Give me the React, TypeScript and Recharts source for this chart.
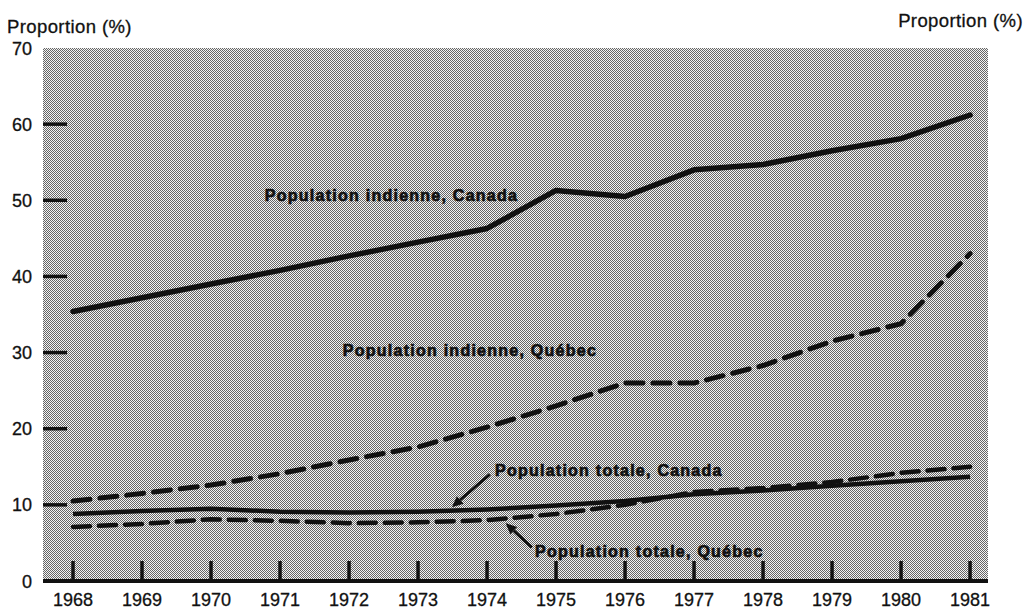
import React from 'react';
import { LineChart, Line, XAxis, YAxis, CartesianGrid, ReferenceLine, ReferenceDot } from 'recharts';

// ---- data (proportions in %) ----
const years = [1968, 1969, 1970, 1971, 1972, 1973, 1974, 1975, 1976, 1977, 1978, 1979, 1980, 1981];
const indienneCanada = [35.4, 37.2, 39.0, 40.8, 42.7, 44.5, 46.3, 51.3, 50.5, 54.0, 54.7, 56.5, 58.1, 61.2];
const indienneQuebec = [10.5, 11.5, 12.6, 14.1, 15.9, 17.6, 20.2, 23.0, 26.0, 26.0, 28.3, 31.5, 33.8, 43.0];
const totaleCanada = [8.8, 9.2, 9.5, 9.1, 9.0, 9.1, 9.4, 9.9, 10.5, 11.4, 11.9, 12.5, 13.1, 13.7];
const totaleQuebec = [7.1, 7.5, 8.1, 7.9, 7.6, 7.7, 8.0, 8.8, 10.0, 11.7, 12.2, 13.0, 14.2, 15.0];
const yTicks = [0, 10, 20, 30, 40, 50, 60, 70];
const axisTitle = 'Proportion (%)';

// annotations (data coordinates)
const labels = [
  { text: 'Population indienne, Canada', year: 1970.78, value: 49.9 },
  { text: 'Population indienne, Québec', year: 1971.91, value: 29.5 },
  { text: 'Population totale, Canada', year: 1974.115, value: 13.8 },
  { text: 'Population totale, Québec', year: 1974.695, value: 3.15 },
];
const arrows = [
  { from: { year: 1974.04, value: 14.0 }, to: { year: 1973.49, value: 9.7 } },
  { from: { year: 1974.65, value: 4.4 }, to: { year: 1974.27, value: 7.6 } },
];

const data = years.map((year, i) => ({
  year,
  ic: indienneCanada[i],
  iq: indienneQuebec[i],
  tc: totaleCanada[i],
  tq: totaleQuebec[i],
}));

const FONT = '"Liberation Sans", Arial, Helvetica, sans-serif';
const INK = '#111';

const LeftTick = (props: any) => {
  const { x, y, payload } = props;
  const v = payload.value;
  return (
    <g>
      {v > 0 && v < 70 && <line x1={x} x2={x + 24} y1={y} y2={y} stroke={INK} strokeWidth={3.5} />}
      <text x={x - 11} y={y + 6.5} textAnchor="end" fontSize={18} fill={INK} stroke={INK} strokeWidth={0.3} fontFamily={FONT}>{v}</text>
    </g>
  );
};

const RightTick = (props: any) => {
  const { x, y, payload } = props;
  const v = payload.value;
  return (
    <g>
      {v > 0 && v < 70 && <line x1={x - 20} x2={x + 2} y1={y} y2={y} stroke={INK} strokeWidth={3.5} />}
      <text x={x + 35} y={y + 6.5} textAnchor="end" fontSize={18} fill={INK} stroke={INK} strokeWidth={0.3} fontFamily={FONT}>{v}</text>
    </g>
  );
};

const BottomTick = (props: any) => {
  const { x, y, payload } = props;
  return (
    <g>
      <line x1={x} x2={x} y1={y} y2={y - 20} stroke={INK} strokeWidth={3.5} />
      <text x={x} y={y + 25} textAnchor="middle" fontSize={18} fill={INK} stroke={INK} strokeWidth={0.3} fontFamily={FONT}>{payload.value}</text>
    </g>
  );
};

const Arrow = (props: any) => {
  const { x1, y1, x2, y2 } = props;
  const dx = x2 - x1;
  const dy = y2 - y1;
  const len = Math.sqrt(dx * dx + dy * dy) || 1;
  const ux = dx / len;
  const uy = dy / len;
  const hl = 11;
  const hw = 5;
  const bx = x2 - ux * hl;
  const by = y2 - uy * hl;
  const pts = `${x2},${y2} ${bx - uy * hw},${by + ux * hw} ${bx + uy * hw},${by - ux * hw}`;
  return (
    <g>
      <line x1={x1} y1={y1} x2={bx} y2={by} stroke={INK} strokeWidth={3} />
      <polygon points={pts} fill={INK} />
    </g>
  );
};

const makeLabel = (text: string) => (props: any) => (
  <text
    x={props.cx}
    y={props.cy}
    fontSize={16}
    fontWeight={700}
    letterSpacing={1.25}
    fill={INK}
    stroke={INK}
    strokeWidth={0.7}
    fontFamily={FONT}
  >
    {text}
  </text>
);

export default function App() {
  return (
    <div style={{ position: 'absolute', left: 0, top: 0, width: 1030, height: 612, background: '#fff' }}>
      <svg width={0} height={0} style={{ position: 'absolute' }}>
        <defs>
          <pattern id="halftone" width={2} height={2} patternUnits="userSpaceOnUse">
            <rect x={0} y={0} width={2} height={2} fill="#f4f4f4" />
            <rect x={0} y={0} width={1} height={1} fill="#666" />
            <rect x={1} y={1} width={1} height={1} fill="#666" />
          </pattern>
        </defs>
      </svg>
      <LineChart width={1030} height={612} data={data} margin={{ top: 48, right: 0, bottom: 0, left: 0 }}>
        <CartesianGrid yAxisId="left" horizontal={false} vertical={false} fill="url(#halftone)" fillOpacity={1} stroke="none" />
        <XAxis
          dataKey="year"
          type="number"
          domain={[1967.565, 1981.26]}
          ticks={years}
          allowDataOverflow
          height={31}
          tickSize={0}
          tickMargin={0}
          tickLine={false}
          axisLine={{ stroke: INK, strokeWidth: 4 }}
          tick={<BottomTick />}
          interval={0}
        />
        <YAxis
          yAxisId="left"
          orientation="left"
          domain={[0, 70]}
          ticks={yTicks}
          width={43}
          tickSize={0}
          tickMargin={0}
          tickLine={false}
          axisLine={false}
          tick={<LeftTick />}
          interval={0}
        />
        <YAxis
          yAxisId="right"
          orientation="right"
          domain={[0, 70]}
          ticks={yTicks}
          width={42}
          tickSize={0}
          tickMargin={0}
          tickLine={false}
          axisLine={false}
          tick={<RightTick />}
          interval={0}
        />
        <Line yAxisId="left" dataKey="tc" stroke={INK} strokeWidth={4.5} dot={false} isAnimationActive={false} type="linear" />
        <Line yAxisId="left" dataKey="tq" stroke={INK} strokeWidth={4.5} strokeDasharray="17 9" strokeLinecap="round" dot={false} isAnimationActive={false} type="linear" />
        <Line yAxisId="left" dataKey="iq" stroke={INK} strokeWidth={5} strokeDasharray="17 10" strokeLinecap="round" dot={false} isAnimationActive={false} type="linear" />
        <Line yAxisId="left" dataKey="ic" stroke={INK} strokeWidth={5.5} strokeLinecap="round" strokeLinejoin="round" dot={false} isAnimationActive={false} type="linear" />
        {arrows.map((a, i) => (
          <ReferenceLine
            key={`arrow-${i}`}
            yAxisId="left"
            segment={[{ x: a.from.year, y: a.from.value }, { x: a.to.year, y: a.to.value }]}
            ifOverflow="visible"
            shape={<Arrow />}
          />
        ))}
        {labels.map((l, i) => (
          <ReferenceDot
            key={`label-${i}`}
            yAxisId="left"
            x={l.year}
            y={l.value}
            r={0}
            ifOverflow="visible"
            shape={makeLabel(l.text)}
          />
        ))}
      </LineChart>
      <svg width={1030} height={612} style={{ position: 'absolute', left: 0, top: 0, pointerEvents: 'none' }}>
        <text x={7} y={33} fontSize={18.5} letterSpacing={0.4} fill={INK} stroke={INK} strokeWidth={0.3} fontFamily={FONT}>{axisTitle}</text>
        <text x={1023} y={27} fontSize={18.5} letterSpacing={0.4} fill={INK} stroke={INK} strokeWidth={0.3} fontFamily={FONT} textAnchor="end">{axisTitle}</text>
      </svg>
    </div>
  );
}
